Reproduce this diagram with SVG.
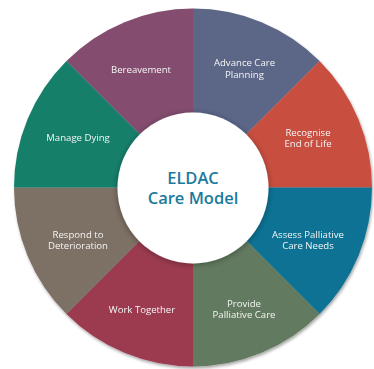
<svg xmlns="http://www.w3.org/2000/svg" width="374" height="369" viewBox="0 0 374 369">
<defs>
<filter id="outerShadow" x="-10%" y="-10%" width="120%" height="120%">
<feDropShadow dx="1" dy="2" stdDeviation="1.8" flood-color="#000" flood-opacity="0.35"/>
</filter>
<filter id="innerShadow" x="-20%" y="-20%" width="140%" height="140%">
<feDropShadow dx="0" dy="1" stdDeviation="3" flood-color="#000" flood-opacity="0.35"/>
</filter>
</defs>
<style>
.lbl{font-family:"Open Sans","Noto Sans","Liberation Sans",sans-serif;font-size:9.6px;fill:#f5f5f5;text-anchor:middle}
.title{font-family:"Open Sans","Noto Sans","Liberation Sans",sans-serif;font-size:16.5px;font-weight:600;fill:#1a7a9c;text-anchor:middle}
</style>
<rect width="374" height="369" fill="#ffffff"/>
<g id="wheel" filter="url(#outerShadow)">
<g id="bereavement">
<path d="M193,187.5 L66.43,60.93 A179,179 0 0 1 193,8.5 Z" fill="#844e6f"/>
<text class="lbl" x="141" y="72.5">Bereavement</text>
</g>
<g id="advance-care-planning">
<path d="M193,187.5 L193,8.5 A179,179 0 0 1 319.57,60.93 Z" fill="#5b6687"/>
<text class="lbl" x="244.5" y="66">Advance Care<tspan x="244.5" dy="11.5">Planning</tspan></text>
</g>
<g id="recognise-end-of-life">
<path d="M193,187.5 L319.57,60.93 A179,179 0 0 1 372,187.5 Z" fill="#c84f41"/>
<text class="lbl" x="308" y="135.5">Recognise<tspan x="308" dy="11.5">End of Life</tspan></text>
</g>
<g id="assess-palliative-care-needs">
<path d="M193,187.5 L372,187.5 A179,179 0 0 1 319.57,314.07 Z" fill="#0b7294"/>
<text class="lbl" x="308" y="237.5">Assess Palliative<tspan x="308" dy="11.5">Care Needs</tspan></text>
</g>
<g id="provide-palliative-care">
<path d="M193,187.5 L319.57,314.07 A179,179 0 0 1 193,366.5 Z" fill="#627a5e"/>
<text class="lbl" x="244" y="306.5">Provide<tspan x="244" dy="11.5">Palliative Care</tspan></text>
</g>
<g id="work-together">
<path d="M193,187.5 L193,366.5 A179,179 0 0 1 66.43,314.07 Z" fill="#9c3a4f"/>
<text class="lbl" x="142" y="312.5">Work Together</text>
</g>
<g id="respond-to-deterioration">
<path d="M193,187.5 L66.43,314.07 A179,179 0 0 1 14,187.5 Z" fill="#7d7065"/>
<text class="lbl" x="78" y="237.5">Respond to<tspan x="78" dy="11.5">Deterioration</tspan></text>
</g>
<g id="manage-dying">
<path d="M193,187.5 L14,187.5 A179,179 0 0 1 66.43,60.93 Z" fill="#167f6b"/>
<text class="lbl" x="78" y="140.5">Manage Dying</text>
</g>
</g>
<g id="connectors"></g>
<g id="centre">
<circle cx="193" cy="188" r="75.5" fill="#ffffff" filter="url(#innerShadow)"/>
<text class="title" x="193" y="183.5">ELDAC<tspan x="193" dy="20">Care Model</tspan></text>
</g>
</svg>
